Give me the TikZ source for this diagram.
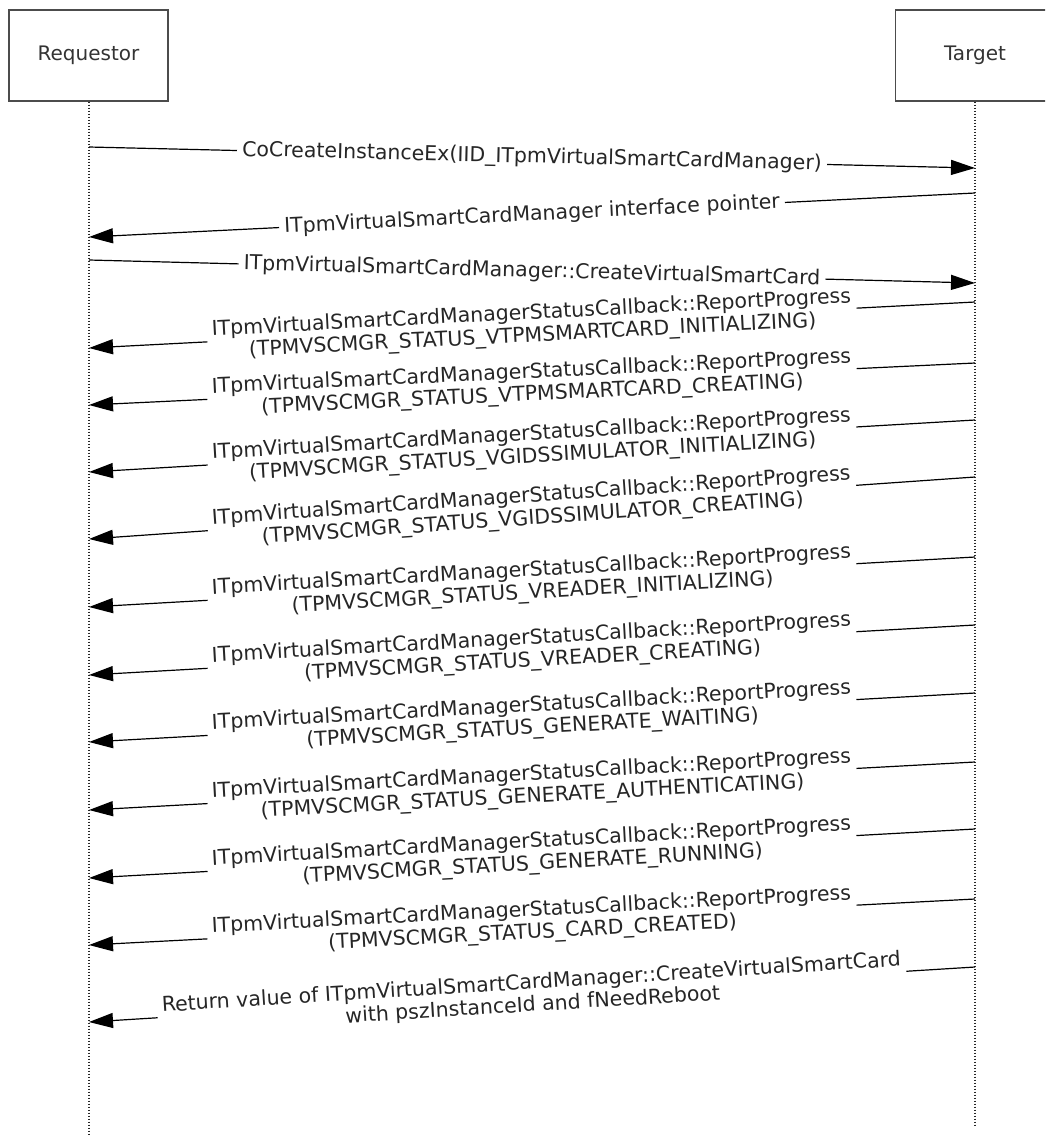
\documentclass[tikz,border=0pt]{standalone}
\usepackage{fontspec}
\setmainfont{DejaVu Sans}
\usetikzlibrary{arrows.meta}
\begin{document}
\begin{tikzpicture}[x=1pt,y=-1pt,
  actor/.style={draw=black!70, line width=1.4pt, minimum width=159pt, minimum height=91pt, inner sep=0pt, font=\fontsize{20}{24}\selectfont, text=black!80},
  life/.style={line width=1.5pt, dash pattern=on 1.5pt off 1.5pt, black!85},
  msg/.style={line width=1.2pt, -{Triangle[length=24pt,width=15pt]}},
  lbl/.style={sloped, fill=white, inner xsep=5pt, inner ysep=0pt, align=center, font=\fontsize{20.5}{22.5}\selectfont, text=black!85}
]
\useasboundingbox (0,0) rectangle (1045,1136);
\clip (0,0) rectangle (1045,1136);
\node[actor] (req) at (88.5,55.5) {Requestor};
\node[actor] (tgt) at (975,55.5) {Target};
\coordinate (reqend) at (89,1136);
\coordinate (tgtend) at (975,1125);
\draw[life] (req.south -| reqend) -- (reqend);
\draw[life] (tgt.south) -- (tgtend);
% endpoints
\coordinate (r1) at (89,147);   \coordinate (t1) at (975,168);
\coordinate (t2) at (975,193);  \coordinate (r2) at (89,237);
\coordinate (r3) at (89,260);   \coordinate (t3) at (975,283);
\coordinate (t4) at (975,302);  \coordinate (r4) at (89,348);
\coordinate (t5) at (975,363);  \coordinate (r5) at (89,405);
\coordinate (t6) at (975,420);  \coordinate (r6) at (89,472);
\coordinate (t7) at (975,477);  \coordinate (r7) at (89,539);
\coordinate (t8) at (975,557);  \coordinate (r8) at (89,607);
\coordinate (t9) at (975,625);  \coordinate (r9) at (89,675);
\coordinate (t10) at (975,693); \coordinate (r10) at (89,742);
\coordinate (t11) at (975,762); \coordinate (r11) at (89,810);
\coordinate (t12) at (975,829); \coordinate (r12) at (89,878);
\coordinate (t13) at (975,899); \coordinate (r13) at (89,945);
\coordinate (t14) at (975,967); \coordinate (r14) at (89,1022);
% messages
\draw[msg] (r1) -- node[lbl] (l1) {CoCreateInstanceEx(IID\_ITpmVirtualSmartCardManager)} (t1);
\draw[msg] (t2) -- node[lbl] (l2) {ITpmVirtualSmartCardManager interface pointer} (r2);
\draw[msg] (r3) -- node[lbl] (l3) {ITpmVirtualSmartCardManager::CreateVirtualSmartCard} (t3);
\draw[msg] (t4) -- node[lbl] (l4) {ITpmVirtualSmartCardManagerStatusCallback::ReportProgress\\(TPMVSCMGR\_STATUS\_VTPMSMARTCARD\_INITIALIZING)} (r4);
\draw[msg] (t5) -- node[lbl] (l5) {ITpmVirtualSmartCardManagerStatusCallback::ReportProgress\\(TPMVSCMGR\_STATUS\_VTPMSMARTCARD\_CREATING)} (r5);
\draw[msg] (t6) -- node[lbl] (l6) {ITpmVirtualSmartCardManagerStatusCallback::ReportProgress\\(TPMVSCMGR\_STATUS\_VGIDSSIMULATOR\_INITIALIZING)} (r6);
\draw[msg] (t7) -- node[lbl] (l7) {ITpmVirtualSmartCardManagerStatusCallback::ReportProgress\\(TPMVSCMGR\_STATUS\_VGIDSSIMULATOR\_CREATING)} (r7);
\draw[msg] (t8) -- node[lbl] (l8) {ITpmVirtualSmartCardManagerStatusCallback::ReportProgress\\(TPMVSCMGR\_STATUS\_VREADER\_INITIALIZING)} (r8);
\draw[msg] (t9) -- node[lbl] (l9) {ITpmVirtualSmartCardManagerStatusCallback::ReportProgress\\(TPMVSCMGR\_STATUS\_VREADER\_CREATING)} (r9);
\draw[msg] (t10) -- node[lbl] (l10) {ITpmVirtualSmartCardManagerStatusCallback::ReportProgress\\(TPMVSCMGR\_STATUS\_GENERATE\_WAITING)} (r10);
\draw[msg] (t11) -- node[lbl] (l11) {ITpmVirtualSmartCardManagerStatusCallback::ReportProgress\\(TPMVSCMGR\_STATUS\_GENERATE\_AUTHENTICATING)} (r11);
\draw[msg] (t12) -- node[lbl] (l12) {ITpmVirtualSmartCardManagerStatusCallback::ReportProgress\\(TPMVSCMGR\_STATUS\_GENERATE\_RUNNING)} (r12);
\draw[msg] (t13) -- node[lbl] (l13) {ITpmVirtualSmartCardManagerStatusCallback::ReportProgress\\(TPMVSCMGR\_STATUS\_CARD\_CREATED)} (r13);
\draw[msg] (t14) -- node[lbl] (l14) {Return value of ITpmVirtualSmartCardManager::CreateVirtualSmartCard\\with pszInstanceId and fNeedReboot} (r14);
\end{tikzpicture}
\end{document}
